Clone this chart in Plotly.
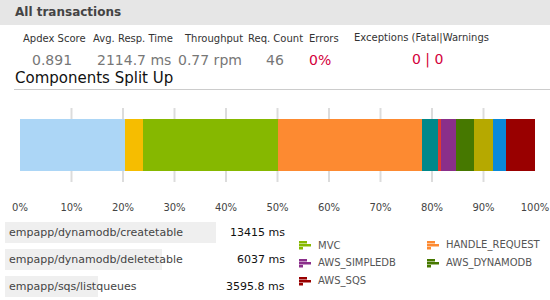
import plotly.graph_objects as go

# ---------------- data ----------------
segment_names = ["seg_a", "seg_b", "MVC", "HANDLE_REQUEST", "seg_e", "seg_f",
                 "AWS_SIMPLEDB", "AWS_DYNAMODB", "seg_i", "seg_j", "AWS_SQS"]
segment_pct = [20.3, 3.6, 26.1, 28.0, 3.2, 0.6, 2.8, 3.6, 3.6, 2.6, 5.6]
segment_colors = ["#acd6f6", "#f6bd00", "#86b800", "#fd8a31", "#00888a", "#e03b31",
                  "#8a2f8a", "#467800", "#b6a900", "#0a89d8", "#990000"]

tick_vals = [0, 10, 20, 30, 40, 50, 60, 70, 80, 90, 100]
tick_text = [f"{v}%" for v in tick_vals]
grid_vals = [10, 20, 30, 40, 50, 60, 70, 80, 90]

stat_labels = ["Apdex Score", "Avg. Resp. Time", "Throughput", "Req. Count", "Errors",
               "Exceptions (Fatal|Warnings"]
stat_values = ["0.891", "2114.7 ms", "0.77 rpm", "46", "0%", "0 | 0"]
stat_is_alert = [False, False, False, False, True, True]

txn_names = ["empapp/dynamodb/createtable", "empapp/dynamodb/deletetable", "empapp/sqs/listqueues"]
txn_times = ["13415 ms", "6037 ms", "3595.8 ms"]
txn_share = [100, 74.4, 44.1]   # relative width of the grey row bars

legend_items = ["MVC", "HANDLE_REQUEST", "AWS_SIMPLEDB", "AWS_DYNAMODB", "AWS_SQS"]

# ---------------- layout helpers ----------------
W, H = 550, 300
FONT = "Verdana, DejaVu Sans, sans-serif"


def px(x):
    return x / W


def py(y):
    return 1 - y / H


fig = go.Figure()

# stacked components bar
for name, val, col in zip(segment_names, segment_pct, segment_colors):
    fig.add_trace(go.Bar(
        x=[val], y=["All transactions"], orientation="h", name=name,
        marker=dict(color=col, line=dict(width=0)), width=0.69,
        hoverinfo="skip", showlegend=False, xaxis="x", yaxis="y",
    ))

# grey transaction row bars
fig.add_trace(go.Bar(
    x=txn_share, y=txn_names, orientation="h", marker=dict(color="#efefef", line=dict(width=0)),
    width=0.75, hoverinfo="skip", showlegend=False, xaxis="x2", yaxis="y2",
))

annotations = []
shapes = []

# header band
shapes.append(dict(type="rect", xref="paper", yref="paper", x0=0, x1=1, y0=py(25), y1=1,
                   fillcolor="#e6e6e6", line=dict(width=0), layer="below"))
annotations.append(dict(text="<b>All transactions</b>", xref="paper", yref="paper",
                        x=px(13), y=py(12.5), xanchor="left", yanchor="middle", showarrow=False,
                        font=dict(family=FONT, size=12, color="#444444")))

# stats row
label_left = [21, 91, 182, 246, 307, 352]
value_center = [52, 134, 210, 275, 320, 427]
for lab, lx in zip(stat_labels, label_left):
    annotations.append(dict(text=lab, xref="paper", yref="paper", x=px(lx), y=py(38),
                            xanchor="left", yanchor="middle", showarrow=False,
                            font=dict(family=FONT, size=10, color="#333333")))
for val, vx, alert in zip(stat_values, value_center, stat_is_alert):
    annotations.append(dict(text=val, xref="paper", yref="paper", x=px(vx), y=py(59.5),
                            xanchor="center", yanchor="middle", showarrow=False,
                            font=dict(family=FONT, size=14, color="#d3003b" if alert else "#777777")))

annotations.append(dict(text="Components Split Up", xref="paper", yref="paper", x=px(13), y=py(78),
                        xanchor="left", yanchor="middle", showarrow=False,
                        font=dict(family=FONT, size=15, color="#111111")))
shapes.append(dict(type="line", xref="paper", yref="paper", x0=px(14), x1=1, y0=py(89.5), y1=py(89.5),
                   line=dict(color="#cccccc", width=1)))

# vertical grid lines through the bar area, placed on the x scale
for g in grid_vals:
    shapes.append(dict(type="line", xref="x", yref="y domain", x0=g, x1=g, y0=0, y1=1,
                       line=dict(color="#dcdcdc", width=2), layer="below"))

# transaction rows text
for name, t in zip(txn_names, txn_times):
    annotations.append(dict(text=name, xref="paper", yref="y2", x=px(7), y=name,
                            xanchor="left", yanchor="middle", showarrow=False,
                            font=dict(family=FONT, size=11, color="#444444")))
    annotations.append(dict(text=t, xref="paper", yref="y2", x=px(286.5), y=name,
                            xanchor="right", yanchor="middle", showarrow=False,
                            font=dict(family=FONT, size=11, color="#111111")))

# legend (two columns, row-major)
col_x = [299, 427]
row_y = [245, 263, 281]
color_of = dict(zip(segment_names, segment_colors))
for i, item in enumerate(legend_items):
    ix = col_x[i % 2]
    iy = row_y[i // 2]
    c = color_of[item]
    for (x0, x1, y0, y1) in [(0, 8, -4, -1.5), (0, 12, -1, 1.5), (0, 4, 2, 4.5)]:
        shapes.append(dict(type="rect", xref="paper", yref="paper",
                           x0=px(ix + x0), x1=px(ix + x1), y0=py(iy + y1), y1=py(iy + y0),
                           fillcolor=c, line=dict(width=0)))
    annotations.append(dict(text=item, xref="paper", yref="paper", x=px(ix + 17), y=py(iy),
                            xanchor="left", yanchor="middle", showarrow=False,
                            font=dict(family=FONT, size=10, color="#555555")))

fig.update_layout(
    width=W, height=H, margin=dict(l=0, r=0, t=0, b=0, autoexpand=False),
    paper_bgcolor="white", plot_bgcolor="rgba(0,0,0,0)",
    barmode="stack", bargap=0, showlegend=False,
    font=dict(family=FONT, size=10, color="#444444"),
    xaxis=dict(domain=[px(20), px(535)], range=[0, 100], tickmode="array",
               tickvals=tick_vals, ticktext=tick_text, showgrid=False, zeroline=False,
               showline=False, ticks="", ticklabelstandoff=18, automargin=False,
               tickfont=dict(family=FONT, size=10, color="#444444"), fixedrange=True),
    yaxis=dict(domain=[py(182), py(108)], range=[-0.5, 0.5], visible=False,
               automargin=False, fixedrange=True),
    xaxis2=dict(domain=[px(5), px(216)], range=[0, 100], visible=False, anchor="y2",
                automargin=False, fixedrange=True),
    yaxis2=dict(domain=[py(299.5), py(218.5)], visible=False, anchor="x2",
                categoryorder="array", categoryarray=txn_names, autorange="reversed",
                automargin=False, fixedrange=True),
    annotations=annotations, shapes=shapes,
)

fig.write_html("out.html", config={"displayModeBar": False})
